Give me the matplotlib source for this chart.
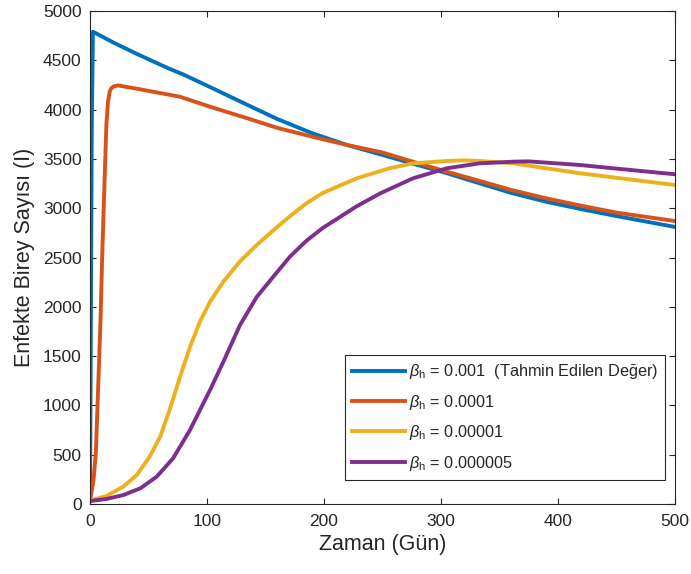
import matplotlib
matplotlib.use("Agg")
import matplotlib.pyplot as plt

# Simulated infected population for four transmission rates
t_b1 = [0, 0.5, 1, 1.5, 2.5, 20, 40, 66.7, 80, 105, 135, 160, 190, 220, 250,
        275, 305, 335, 360, 390, 420, 450, 500]
I_b1 = [30, 1200, 2500, 3800, 4790, 4680, 4565, 4420, 4355, 4215, 4045, 3905,
        3760, 3640, 3540, 3455, 3355, 3245, 3155, 3065, 2990, 2920, 2810]

t_b2 = [0, 3, 5, 7, 9, 10.5, 12.3, 14, 15.4, 16.8, 18.2, 20, 24, 40, 77, 105,
        135, 160, 190, 220, 250, 275, 305, 335, 360, 390, 420, 450, 500]
I_b2 = [30, 240, 520, 1190, 1870, 2545, 3220, 3844, 4080, 4182, 4216, 4235,
        4245, 4212, 4130, 4020, 3910, 3815, 3725, 3640, 3565, 3475, 3370, 3270,
        3185, 3100, 3025, 2955, 2870]

t_b3 = [0, 14, 28.5, 40, 51, 60, 68, 77, 85.5, 94, 102.6, 114, 128, 142.5, 157,
        171, 185, 199, 228, 256, 276, 305, 320, 333, 362, 390, 419, 447, 500]
I_b3 = [35, 81, 176, 294, 480, 683, 953, 1291, 1595, 1849, 2052, 2255, 2458,
        2627, 2779, 2920, 3050, 3155, 3303, 3405, 3455, 3479, 3485, 3479, 3455,
        3405, 3354, 3313, 3235]

t_b4 = [0, 14, 28.5, 43, 57, 71, 85.5, 94, 102.6, 114, 128, 142.5, 157, 171,
        185, 199, 228, 248, 276, 305, 333, 362, 375, 390, 419, 447, 500]
I_b4 = [30, 51, 91, 159, 277, 463, 751, 953, 1156, 1443, 1810, 2100, 2310,
        2510, 2670, 2800, 3020, 3150, 3303, 3405, 3455, 3472, 3475, 3462, 3438,
        3405, 3344]

labels = [r"$\beta_\mathrm{h}$ = 0.001  (Tahmin Edilen Değer)",
          r"$\beta_\mathrm{h}$ = 0.0001",
          r"$\beta_\mathrm{h}$ = 0.00001",
          r"$\beta_\mathrm{h}$ = 0.000005"]
colors = ["#0072BD", "#D95319", "#EDB120", "#7E2F8E"]

x_ticks = [0, 100, 200, 300, 400, 500]
y_ticks = list(range(0, 5001, 500))

plt.rcParams["font.family"] = ["Liberation Sans", "DejaVu Sans"]
plt.rcParams["mathtext.fontset"] = "custom"
plt.rcParams["mathtext.rm"] = "Liberation Sans"
plt.rcParams["mathtext.it"] = "Liberation Sans:italic"

fig = plt.figure(figsize=(6.91, 5.74), dpi=100)
ax = fig.add_axes([90 / 691, 1 - 504 / 574, 585 / 691, 493 / 574])

series = [(t_b1, I_b1), (t_b2, I_b2), (t_b3, I_b3), (t_b4, I_b4)]
for (t, I), c, lab in zip(series, colors, labels):
    ax.plot(t, I, color=c, lw=2.8, label=lab, solid_joinstyle="round")

ax.set_xlim(0, 500)
ax.set_ylim(0, 5000)
ax.set_xticks(x_ticks)
ax.set_yticks(y_ticks)

ax.tick_params(direction="in", top=True, right=True, length=4.5, width=0.8,
               colors="#262626", labelsize=12.5, labelcolor="#262626")
ax.tick_params(axis="x", pad=7)
ax.tick_params(axis="y", pad=6)
for s in ax.spines.values():
    s.set_color("#262626")
    s.set_linewidth(0.8)

ax.set_xlabel("Zaman (Gün)", fontsize=15.5, color="#262626", labelpad=4)
ax.set_ylabel("Enfekte Birey Sayısı (I)", fontsize=15.5, color="#262626",
              labelpad=6)

leg = ax.legend(loc="lower right", bbox_to_anchor=(0.983, 0.049),
                borderaxespad=0, fontsize=11.7, handlelength=3.25,
                handletextpad=0.2, labelspacing=0.7, fancybox=False,
                framealpha=1, edgecolor="#262626", borderpad=0.45)
leg.get_frame().set_linewidth(0.8)
for txt in leg.get_texts():
    txt.set_color("#262626")

fig.savefig("out.png", dpi=100)
